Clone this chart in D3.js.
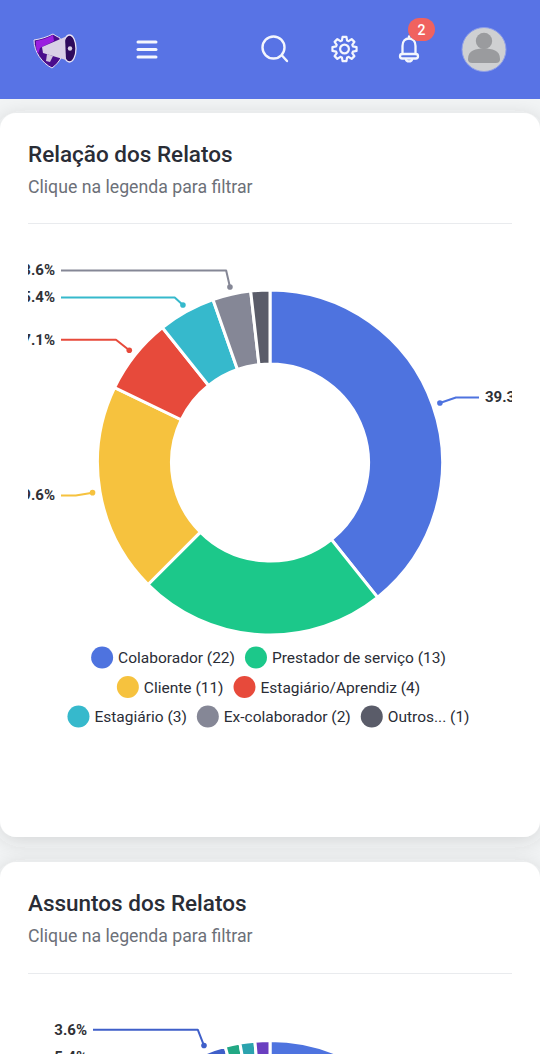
<!DOCTYPE html>
<html><head><meta charset="utf-8">
<script src="https://cdnjs.cloudflare.com/ajax/libs/d3/7.8.5/d3.min.js"></script>
<style>
html,body{margin:0;padding:0;background:#f2f4f5;width:540px;height:1054px;overflow:hidden}
svg{display:block}
text{font-family:Roboto,sans-serif}
</style></head><body><svg id="c" width="540" height="1054"></svg>
<script>
const categories=["Colaborador","Prestador de serviço","Cliente","Estagiário/Aprendiz","Estagiário","Ex-colaborador","Outros..."];
const counts=[22,13,11,4,3,2,1];
const colors=["#4e73df","#1cc88a","#f6c23e","#e74a3b","#36b9cc","#858796","#5a5c69"];
const labelled=["Colaborador","Cliente","Estagiário/Aprendiz","Estagiário","Ex-colaborador"];
const legendRows=[[0,1],[2,3],[4,5,6]];
const assuntosShares=[40,24,14,9.2,5.4,3.6,1.4,1.4,1.4];
const assuntosColors=["#4e73df","#1cc88a","#f6c23e","#e74a3b","#36b9cc","#3f5fc9","#22a884","#2ba3ae","#6a3fc0"];
const assuntosLabelled=[5.4,3.6];

const svg=d3.select("#c");
const defs=svg.append("defs");
const sh=defs.append("filter").attr("id","sh").attr("x","-10%").attr("y","-10%").attr("width","120%").attr("height","120%");
sh.append("feDropShadow").attr("dx",0).attr("dy",4).attr("stdDeviation",10).attr("flood-color","#3a3b45").attr("flood-opacity",0.16);
const clipA=defs.append("clipPath").attr("id","clipA");clipA.append("rect").attr("x",28).attr("y",230).attr("width",484).attr("height",600);
const clipB=defs.append("clipPath").attr("id","clipB");clipB.append("rect").attr("x",28).attr("y",985).attr("width",484).attr("height",400);

// cards
[[113,724],[862,400]].forEach(([y,h])=>svg.append("rect").attr("x",0).attr("y",y).attr("width",540).attr("height",h).attr("rx",16).attr("fill","#fff").attr("filter","url(#sh)"));

// header
svg.append("rect").attr("width",540).attr("height",99).attr("fill","#5873e5");
const W="#f4f6fd";
const hg=svg.append("g").attr("fill","none").attr("stroke",W).attr("stroke-linecap","round").attr("stroke-linejoin","round");
// hamburger
[42,49.5,57].forEach(y=>hg.append("line").attr("x1",138).attr("x2",156).attr("y1",y).attr("y2",y).attr("stroke-width",3));
// search
hg.append("circle").attr("cx",273.5).attr("cy",47.5).attr("r",11).attr("stroke-width",2.4);
hg.append("line").attr("x1",282).attr("y1",55.5).attr("x2",287).attr("y2",61).attr("stroke-width",2.4);
// gear
const gear=hg.append("g").attr("transform","translate(344.5,49)").attr("stroke-width",2.2);
gear.append("circle").attr("r",4.4);
const gp=d3.range(8).flatMap(i=>{const a=i*Math.PI/4;const s=0.2;return [[a-s*1.5,8.8],[a-s*.8,12.2],[a+s*.8,12.2],[a+s*1.5,8.8]];});
gear.append("path").attr("d",d3.lineRadial().angle(d=>d[0]).radius(d=>d[1]).curve(d3.curveLinearClosed)(gp));
// bell
const bell=hg.append("g").attr("stroke-width",2.3);
bell.append("path").attr("d","M402.5 54 L402.5 46 C402.5 41 405.5 38.5 409 38.5 C412.5 38.5 415.5 41 415.5 46 L415.5 54");
bell.append("rect").attr("x",400).attr("y",54).attr("width",18).attr("height",4.5).attr("rx",2.2);
bell.append("path").attr("d","M406 59.5 C406.5 62 411.5 62 412 59.5");
bell.append("line").attr("x1",409).attr("x2",409).attr("y1",36.5).attr("y2",38.5);
svg.append("rect").attr("x",408).attr("y",18).attr("width",27).attr("height",23).attr("rx",11.5).attr("fill","#f0625f");
svg.append("text").attr("x",421.5).attr("y",34.5).attr("text-anchor","middle").attr("font-size",14).attr("font-weight",500).attr("fill","#fff").text("2");
// avatar
svg.append("circle").attr("cx",484).attr("cy",49.5).attr("r",22).attr("fill","#cfd0d2").attr("stroke","#8f9fe8").attr("stroke-width",1);
svg.append("circle").attr("cx",484).attr("cy",41).attr("r",8.2).attr("fill","#9a9b9e");
svg.append("path").attr("d","M468 59 C468 50 476 48.5 484 48.5 C492 48.5 500 50 500 59 C500 62.5 498 63 495 63 L473 63 C470 63 468 62.5 468 59 Z").attr("fill","#9a9b9e");
// logo
const lg=svg.append("g");
lg.append("path").attr("d","M34 40 C41 39 47 37 53 34 C56 36 58 37 60 38 L62 56 C59 62 56 65 52 68 C42 63 34 52 34 40 Z").attr("fill","#4a0d8c").attr("stroke","#e9e3f5").attr("stroke-width",1);
lg.append("path").attr("d","M36 41 C42 40 48 38 53 35 L54 41 L40 48 L38 54 C36 50 36 46 36 41 Z").attr("fill","#9a1fe0");
lg.append("ellipse").attr("cx",69.5).attr("cy",48.5).attr("rx",6.5).attr("ry",13.5).attr("fill","#2e0a5c").attr("stroke","#e9e3f5").attr("stroke-width",1.3);
lg.append("path").attr("d","M42 47 L65 37 L66 60 L43 53 Z").attr("fill","#d9cfe6");
lg.append("path").attr("d","M47 54 L53 56 L50 62 L46 61 Z").attr("fill","#cfc3df");
lg.append("circle").attr("cx",70).attr("cy",48.5).attr("r",2.2).attr("fill","#d9cfe6");

// card titles
function head(yT,yS,yL,t){
  svg.append("text").attr("x",28).attr("y",yT).attr("font-size",22.5).attr("font-weight",500).attr("fill","#2a2d36").text(t);
  svg.append("text").attr("x",28).attr("y",yS).attr("font-size",17.7).attr("fill","#6c7078").text("Clique na legenda para filtrar");
  svg.append("line").attr("x1",28).attr("x2",512).attr("y1",yL).attr("y2",yL).attr("stroke","#e9ebee");
}
head(162,193,223.5,"Relação dos Relatos");
head(911,942,973.5,"Assuntos dos Relatos");

const R=172.5,r0=98.5;
const labelR=180,elbowR=197,gapY=27;
function donut(cx,cy,vals,cols,clip,showIdx,labelText,edgeLeft,edgeRight){
  const pie=d3.pie().sort(null).value(d=>d);
  const arcs=pie(vals);
  const arc=d3.arc().innerRadius(r0).outerRadius(R);
  const g=svg.append("g").attr("clip-path",`url(#${clip})`);
  g.append("g").attr("transform",`translate(${cx},${cy})`).selectAll("path").data(arcs).join("path")
    .attr("d",arc).attr("fill",(d,i)=>cols[i]).attr("stroke","#fff").attr("stroke-width",3);
  const pol=(rad,a)=>[cx+rad*Math.sin(a),cy-rad*Math.cos(a)];
  const items=arcs.map((d,i)=>({i,a:(d.startAngle+d.endAngle)/2})).filter(o=>showIdx(o.i));
  items.forEach(o=>{o.p=pol(labelR,o.a);o.e=pol(elbowR,o.a);});
  // overlap avoidance, per side
  [items.filter(o=>o.e[0]<cx),items.filter(o=>o.e[0]>=cx)].forEach(side=>{
    side.sort((a,b)=>a.e[1]-b.e[1]);
    side.forEach((o,k)=>{if(k&&o.e[1]-side[k-1].e[1]<gapY)o.e[1]=side[k-1].e[1]+gapY;});
  });
  const line=d3.line();
  items.forEach(o=>{
    const left=o.e[0]<cx, c=cols[o.i];
    const endX=left?edgeLeft+6:edgeRight-6;
    const e=[o.e[0],o.e[1]];
    g.append("path").attr("d",line([o.p,e,[endX,e[1]]])).attr("fill","none").attr("stroke",c).attr("stroke-width",2).attr("stroke-linejoin","round");
    g.append("circle").attr("cx",o.p[0]).attr("cy",o.p[1]).attr("r",2.8).attr("fill",c);
    g.append("text").attr("x",left?edgeLeft:edgeRight).attr("y",e[1]+5).attr("text-anchor",left?"end":"start")
      .attr("font-size",15).attr("font-weight",700).attr("fill","#2f3136").text(labelText(o.i));
  });
}
const total=d3.sum(counts);
donut(270,462.5,counts,colors,"clipA",i=>labelled.includes(categories[i]),i=>(counts[i]/total*100).toFixed(1)+"%",55,485);

// legend
const rowY=[657.5,687,716.5];
const lgd=svg.append("g");
const tmp=lgd.append("text").attr("font-size",15.5);
const measure=s=>{tmp.text(s);return tmp.node().getComputedTextLength();};
legendRows.forEach((row,ri)=>{
  const strs=row.map(i=>`${categories[i]} (${counts[i]})`);
  const widths=strs.map(measure).map(w=>22+5+w);
  const gap=10;
  let x=268.5-(d3.sum(widths)+gap*(row.length-1))/2;
  row.forEach((i,k)=>{
    lgd.append("circle").attr("cx",x+11).attr("cy",rowY[ri]).attr("r",11).attr("fill",colors[i]);
    lgd.append("text").attr("x",x+27).attr("y",rowY[ri]+5.5).attr("font-size",15.5).attr("fill","#2a2d36").text(strs[k]);
    x+=widths[k]+gap;
  });
});
tmp.remove();

// second chart (only its top edge is visible)
donut(270,1213,assuntosShares,assuntosColors,"clipB",i=>assuntosLabelled.includes(assuntosShares[i]),i=>assuntosShares[i].toFixed(1)+"%",87,453);
</script></body></html>
